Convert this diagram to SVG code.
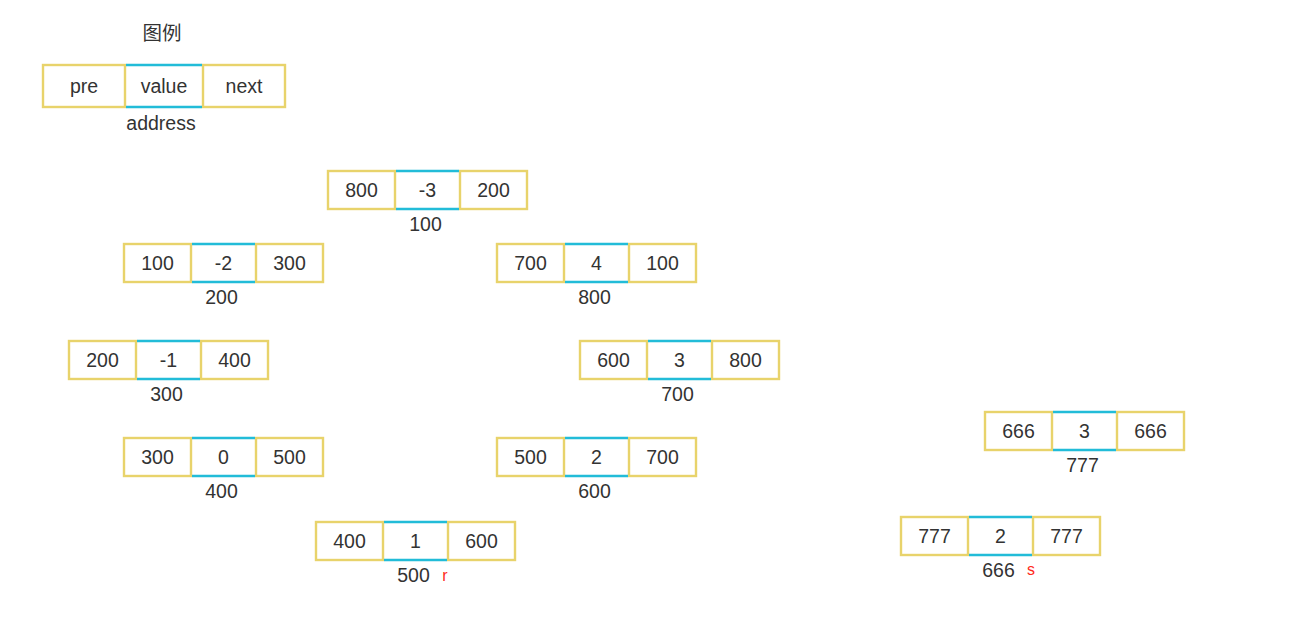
<svg xmlns="http://www.w3.org/2000/svg" width="1307" height="620" viewBox="0 0 1307 620">
<style>
.y{fill:#fff;stroke:#e8d36b;stroke-width:2.4}
.c{stroke:#22bcd8;stroke-width:2.4}
text{font-family:"Liberation Sans","Noto Sans CJK SC",sans-serif;font-size:19.5px;fill:#333;text-anchor:middle}
.r{fill:#ff2a1a;font-size:16px}
</style>
<defs>
<g id="cell">
<rect class="y" x="0" y="0" width="67" height="38"/>
<rect class="y" x="132" y="0" width="67" height="38"/>
<line class="c" x1="68" y1="0" x2="131" y2="0"/>
<line class="c" x1="68" y1="38" x2="131" y2="38"/>
</g>
</defs>
<g id="legend">
<text x="162" y="40">图例</text>
<rect class="y" x="43" y="65" width="82" height="42"/>
<rect class="y" x="203" y="65" width="82" height="42"/>
<line class="c" x1="126" y1="65" x2="202" y2="65"/>
<line class="c" x1="126" y1="107" x2="202" y2="107"/>
<text x="84" y="93">pre</text>
<text x="164" y="93">value</text>
<text x="244" y="93">next</text>
<text x="161" y="130">address</text>
</g>
<g id="node100" transform="translate(328,171)">
<use href="#cell"/><text x="33.5" y="26">800</text><text x="99.5" y="26">-3</text><text x="165.5" y="26">200</text><text x="97.5" y="60">100</text>
</g>
<g id="node200" transform="translate(124,244)">
<use href="#cell"/><text x="33.5" y="26">100</text><text x="99.5" y="26">-2</text><text x="165.5" y="26">300</text><text x="97.5" y="60">200</text>
</g>
<g id="node800" transform="translate(497,244)">
<use href="#cell"/><text x="33.5" y="26">700</text><text x="99.5" y="26">4</text><text x="165.5" y="26">100</text><text x="97.5" y="60">800</text>
</g>
<g id="node300" transform="translate(69,341)">
<use href="#cell"/><text x="33.5" y="26">200</text><text x="99.5" y="26">-1</text><text x="165.5" y="26">400</text><text x="97.5" y="60">300</text>
</g>
<g id="node700" transform="translate(580,341)">
<use href="#cell"/><text x="33.5" y="26">600</text><text x="99.5" y="26">3</text><text x="165.5" y="26">800</text><text x="97.5" y="60">700</text>
</g>
<g id="node400" transform="translate(124,438)">
<use href="#cell"/><text x="33.5" y="26">300</text><text x="99.5" y="26">0</text><text x="165.5" y="26">500</text><text x="97.5" y="60">400</text>
</g>
<g id="node600" transform="translate(497,438)">
<use href="#cell"/><text x="33.5" y="26">500</text><text x="99.5" y="26">2</text><text x="165.5" y="26">700</text><text x="97.5" y="60">600</text>
</g>
<g id="node500" transform="translate(316,522)">
<use href="#cell"/><text x="33.5" y="26">400</text><text x="99.5" y="26">1</text><text x="165.5" y="26">600</text><text x="97.5" y="60">500</text><text class="r" x="129" y="59">r</text>
</g>
<g id="node777" transform="translate(985,412)">
<use href="#cell"/><text x="33.5" y="26">666</text><text x="99.5" y="26">3</text><text x="165.5" y="26">666</text><text x="97.5" y="60">777</text>
</g>
<g id="node666" transform="translate(901,517)">
<use href="#cell"/><text x="33.5" y="26">777</text><text x="99.5" y="26">2</text><text x="165.5" y="26">777</text><text x="97.5" y="60">666</text><text class="r" x="130" y="58">s</text>
</g>
<g id="connectors"></g>
</svg>
